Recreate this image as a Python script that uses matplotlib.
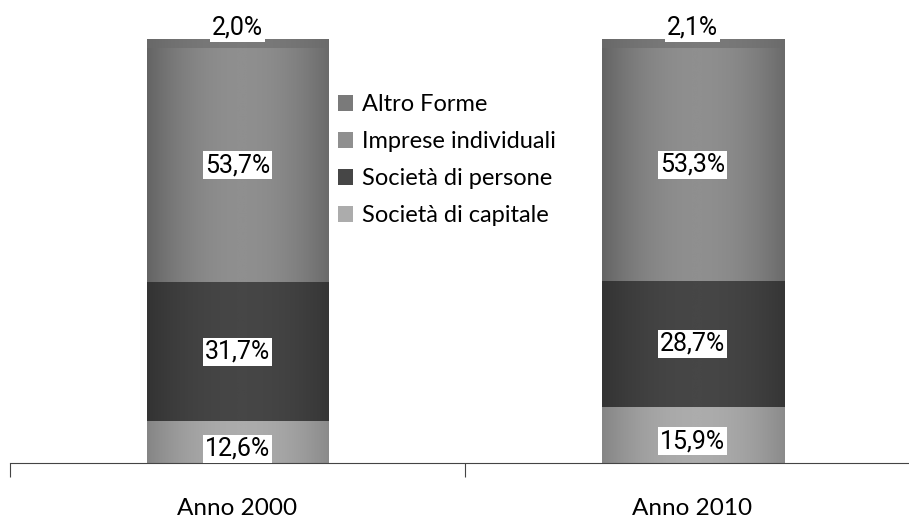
import numpy as np
import matplotlib
matplotlib.use("Agg")
from matplotlib import pyplot as plt
from matplotlib.patches import Patch
from matplotlib.colors import LinearSegmentedColormap

years = ["Anno 2000", "Anno 2010"]
series_names = ["Società di capitale", "Società di persone", "Imprese individuali", "Altro Forme"]
capitale = [12.6, 15.9]
persone = [31.7, 28.7]
individuali = [53.7, 53.3]
altro = [2.0, 2.1]

# edge colour, centre colour for the cylinder-like shading
shades = [("#858585", "#acacac"), ("#333333", "#464646"), ("#646464", "#8f8f8f"), ("#686868", "#7a7a7a")]

fig = plt.figure(figsize=(9.09, 5.2), dpi=100)
ax = fig.add_axes([10 / 909, 57 / 520, 910 / 909, 424 / 520])

x = np.arange(len(years))
values = [capitale, persone, individuali, altro]
bottom = np.zeros(len(years))

t = np.linspace(0, 1, 200)
profile = np.clip(1 - ((t - 0.52) / 0.52) ** 2, 0, 1)

for name, vals, (c_edge, c_mid) in zip(series_names, values, shades):
    bars = ax.bar(x, vals, 0.4, bottom=bottom, color="none", edgecolor="none", label=name, zorder=1)
    cmap = LinearSegmentedColormap.from_list(name, [c_edge, c_mid])
    for rect in bars:
        x0, y0 = rect.get_x(), rect.get_y()
        w, h = rect.get_width(), rect.get_height()
        ax.imshow(np.tile(profile, (2, 1)), extent=[x0, x0 + w, y0, y0 + h],
                  aspect="auto", cmap=cmap, vmin=0, vmax=1, zorder=2, interpolation="bilinear")
    for xi, b, v in zip(x, bottom, vals):
        if name == "Altro Forme":
            ypos = b + v + 2.6
        else:
            ypos = b + v / 2
        ax.text(xi, ypos, f"{v:.1f}%".replace(".", ","), ha="center", va="center",
                fontsize=18, family="Roboto", color="black", zorder=5,
                bbox=dict(boxstyle="square,pad=0.08", fc="white", ec="none"))
    bottom = bottom + np.array(vals)

ax.set_xlim(-0.5, 1.5)
ax.set_ylim(3, 100)

for s in ["left", "right", "top"]:
    ax.spines[s].set_visible(False)
ax.spines["bottom"].set_color("#444444")
ax.set_yticks([])
ax.set_xticks([-0.5, 0.5, 1.5])
ax.set_xticklabels([])
ax.tick_params(axis="x", which="major", length=10, direction="out", color="#444444")
ax.set_xticks(x, minor=True)
ax.set_xticklabels(years, minor=True, fontsize=17.5, family="Lato")
ax.tick_params(axis="x", which="minor", length=0, pad=25)

handles = [Patch(facecolor=m, edgecolor="none") for (e, m) in shades][::-1]
labels = series_names[::-1]
leg = ax.legend(handles, labels, loc="upper left", bbox_to_anchor=(338 / 909, 1 - 94 / 520),
                bbox_transform=fig.transFigure, frameon=False, prop={"family": "Lato", "size": 17},
                handlelength=0.65, handleheight=0.65, handletextpad=0.35, labelspacing=0.68,
                borderpad=0, borderaxespad=0)

fig.savefig("out.png", dpi=100)
